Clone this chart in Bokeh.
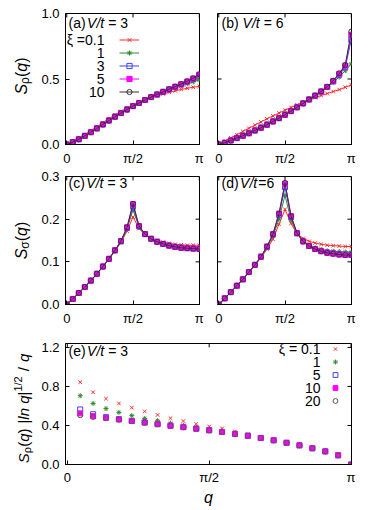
import math
from bokeh.plotting import figure
from bokeh.layouts import column, row
from bokeh.models import (Label, Legend, LegendItem, FixedTicker,
                          PrintfTickFormatter, Range1d, ColumnDataSource)
from bokeh.embed import file_html
from bokeh.resources import INLINE

PI = math.pi
k_all = list(range(23))
q_all = [PI * i / 22 for i in k_all]
q_e = q_all[1:]

x_ticks = [0, PI / 2, PI]
x_tick_labels = ["0", "π/2", "π"]
y_ticks_ab = [0, 0.5, 1.0]
y_ticks_cd = [0, 0.1, 0.2, 0.3]
y_ticks_e = [0, 0.4, 0.8, 1.2]

# ---- panel (a): S_rho(q), V/t = 3
a_xi01 = [0, 0.022, 0.047, 0.075, 0.105, 0.136, 0.167, 0.197, 0.226, 0.253, 0.278, 0.300, 0.321, 0.340, 0.357, 0.372, 0.386, 0.399, 0.410, 0.420, 0.429, 0.437, 0.444]
a_xi1 = [0, 0.019, 0.042, 0.069, 0.098, 0.128, 0.158, 0.188, 0.216, 0.244, 0.270, 0.295, 0.318, 0.340, 0.360, 0.379, 0.398, 0.415, 0.432, 0.448, 0.463, 0.478, 0.492]
a_xi3 = [0, 0.018, 0.040, 0.066, 0.094, 0.123, 0.153, 0.183, 0.212, 0.240, 0.267, 0.293, 0.317, 0.340, 0.362, 0.382, 0.402, 0.421, 0.440, 0.459, 0.479, 0.501, 0.528]
a_xi5 = [0, 0.018, 0.040, 0.066, 0.094, 0.123, 0.153, 0.183, 0.212, 0.240, 0.267, 0.293, 0.317, 0.340, 0.362, 0.382, 0.402, 0.421, 0.441, 0.460, 0.481, 0.504, 0.533]
a_xi10 = [0, 0.018, 0.040, 0.066, 0.094, 0.123, 0.153, 0.183, 0.212, 0.240, 0.267, 0.293, 0.317, 0.340, 0.362, 0.382, 0.402, 0.422, 0.442, 0.461, 0.482, 0.505, 0.536]

# ---- panel (b): S_rho(q), V/t = 6
b_xi01 = [0, 0.025, 0.050, 0.075, 0.100, 0.124, 0.148, 0.172, 0.196, 0.218, 0.240, 0.262, 0.283, 0.303, 0.322, 0.340, 0.358, 0.374, 0.389, 0.404, 0.419, 0.437, 0.455]
b_xi1 = [0, 0.016, 0.035, 0.055, 0.075, 0.096, 0.117, 0.139, 0.162, 0.186, 0.210, 0.235, 0.261, 0.288, 0.315, 0.342, 0.370, 0.400, 0.437, 0.475, 0.515, 0.563, 0.615]
b_xi3 = [0, 0.013, 0.031, 0.049, 0.067, 0.086, 0.107, 0.128, 0.151, 0.176, 0.201, 0.227, 0.255, 0.284, 0.314, 0.344, 0.373, 0.404, 0.438, 0.481, 0.533, 0.590, 0.800]
b_xi5 = [0, 0.013, 0.031, 0.049, 0.067, 0.086, 0.107, 0.128, 0.151, 0.176, 0.201, 0.227, 0.255, 0.284, 0.314, 0.344, 0.373, 0.405, 0.440, 0.485, 0.540, 0.602, 0.838]
b_xi10 = [0, 0.013, 0.031, 0.049, 0.067, 0.086, 0.107, 0.128, 0.151, 0.176, 0.201, 0.227, 0.255, 0.284, 0.314, 0.344, 0.373, 0.405, 0.441, 0.487, 0.543, 0.607, 0.862]

# ---- panel (c): S_sigma(q), V/t = 3
c_xi01 = [0, 0.013, 0.027, 0.041, 0.056, 0.072, 0.089, 0.106, 0.125, 0.145, 0.172, 0.205, 0.178, 0.163, 0.155, 0.150, 0.146, 0.143, 0.141, 0.140, 0.139, 0.139, 0.139]
c_xi1 = [0, 0.013, 0.027, 0.041, 0.056, 0.072, 0.089, 0.107, 0.126, 0.147, 0.177, 0.222, 0.181, 0.164, 0.154, 0.148, 0.143, 0.140, 0.137, 0.135, 0.134, 0.133, 0.133]
c_xi3 = [0, 0.013, 0.027, 0.041, 0.056, 0.072, 0.089, 0.107, 0.127, 0.148, 0.179, 0.230, 0.183, 0.165, 0.154, 0.147, 0.142, 0.138, 0.135, 0.133, 0.132, 0.131, 0.131]
c_xi5 = [0, 0.013, 0.027, 0.041, 0.056, 0.072, 0.089, 0.107, 0.127, 0.149, 0.181, 0.235, 0.184, 0.165, 0.154, 0.147, 0.142, 0.138, 0.135, 0.133, 0.132, 0.131, 0.130]
c_xi10 = [0, 0.013, 0.027, 0.041, 0.056, 0.072, 0.089, 0.107, 0.127, 0.149, 0.181, 0.236, 0.184, 0.165, 0.154, 0.147, 0.142, 0.138, 0.135, 0.133, 0.132, 0.131, 0.130]

# ---- panel (d): S_sigma(q), V/t = 6
d_xi01 = [0, 0.0145, 0.029, 0.044, 0.059, 0.075, 0.092, 0.109, 0.130, 0.153, 0.188, 0.223, 0.190, 0.165, 0.155, 0.148, 0.144, 0.141, 0.139, 0.138, 0.137, 0.136, 0.136]
d_xi1 = [0, 0.0145, 0.029, 0.044, 0.059, 0.076, 0.093, 0.111, 0.133, 0.160, 0.200, 0.256, 0.198, 0.166, 0.149, 0.139, 0.133, 0.129, 0.126, 0.125, 0.124, 0.123, 0.123]
d_xi3 = [0, 0.0145, 0.029, 0.044, 0.059, 0.076, 0.093, 0.112, 0.135, 0.164, 0.210, 0.275, 0.205, 0.167, 0.148, 0.137, 0.130, 0.125, 0.122, 0.120, 0.118, 0.117, 0.117]
d_xi5 = [0, 0.0145, 0.029, 0.044, 0.059, 0.076, 0.093, 0.112, 0.136, 0.165, 0.213, 0.283, 0.207, 0.167, 0.148, 0.137, 0.130, 0.125, 0.121, 0.119, 0.117, 0.116, 0.116]
d_xi10 = [0, 0.0145, 0.029, 0.044, 0.059, 0.076, 0.093, 0.112, 0.136, 0.165, 0.213, 0.285, 0.207, 0.167, 0.148, 0.137, 0.130, 0.125, 0.121, 0.119, 0.117, 0.116, 0.116]

# ---- panel (e): S_rho(q)|ln q|^(1/2)/q, V/t = 3 (q > 0)
e_xi01 = [0.843, 0.740, 0.675, 0.626, 0.583, 0.544, 0.508, 0.475, 0.445, 0.416, 0.390, 0.370, 0.338, 0.311, 0.278, 0.253, 0.226, 0.199, 0.169, 0.136, 0.096, 0.0]
e_xi1 = [0.705, 0.626, 0.573, 0.534, 0.501, 0.472, 0.449, 0.423, 0.402, 0.381, 0.362, 0.343, 0.322, 0.300, 0.275, 0.250, 0.224, 0.198, 0.168, 0.135, 0.095, 0.0]
e_xi5 = [0.564, 0.515, 0.485, 0.465, 0.447, 0.431, 0.414, 0.398, 0.383, 0.367, 0.351, 0.333, 0.313, 0.294, 0.271, 0.248, 0.222, 0.196, 0.166, 0.134, 0.094, 0.0]
e_xi10 = [0.524, 0.495, 0.478, 0.462, 0.445, 0.430, 0.413, 0.397, 0.383, 0.367, 0.351, 0.334, 0.314, 0.295, 0.272, 0.249, 0.223, 0.197, 0.167, 0.135, 0.095, 0.0]
e_xi20 = [0.505, 0.488, 0.474, 0.460, 0.444, 0.429, 0.413, 0.397, 0.382, 0.366, 0.350, 0.333, 0.313, 0.294, 0.271, 0.248, 0.222, 0.196, 0.166, 0.134, 0.094, 0.0]

xi_labels_top = ["ξ =0.1", "1", "3", "5", "10"]
xi_labels_e = ["ξ = 0.1", "1", "5", "10", "20"]

FONT = "Liberation Sans"
RED, GREEN, BLUE, MAG, BLK, GRY = "#ff2a2a", "#2e8b2e", "#4040ff", "#ff00ff", "#333333", "#555555"
st_top = [
    dict(color=RED, marker="x", fill=None),
    dict(color=GREEN, marker="asterisk", fill=None),
    dict(color=BLUE, marker="square", fill=None),
    dict(color=MAG, marker="square", fill=MAG),
    dict(color=BLK, marker="circle", fill=None),
]
st_e = [
    dict(color=RED, marker="x", fill=None),
    dict(color=GREEN, marker="asterisk", fill=None),
    dict(color=BLUE, marker="square", fill=None),
    dict(color=MAG, marker="square", fill=MAG),
    dict(color=GRY, marker="circle", fill=None),
]

W = {'S': 0.667, 'ρ': 0.58, 'σ': 0.62, '(': 0.333, ')': 0.333, 'q': 0.556, ' ': 0.278,
     '|': 0.26, 'l': 0.222, 'n': 0.556, '1': 0.556, '2': 0.556, '/': 0.278, 'a': 0.556,
     'b': 0.556, 'c': 0.5, 'd': 0.556, 'e': 0.556, 'V': 0.667, 't': 0.278, '=': 0.584,
     '3': 0.556, '6': 0.556}


def tw(s, size):
    return sum(W.get(ch, 0.556) for ch in s) * size


def lab(p, x, y, text, size, style="normal", angle=0.0, align="left", baseline="middle"):
    p.add_layout(Label(x=x, y=y, x_units="screen", y_units="screen", text=text,
                       text_font=FONT, text_font_size=f"{size}px", text_font_style=style,
                       angle=angle, text_align=align, text_baseline=baseline,
                       text_color="black"))


def make_panel(w, h, bl, br, bt, bb, yr, yticks, ylabels=True, xr=(-0.03, PI + 0.005)):
    p = figure(width=w, height=h, x_range=Range1d(*xr), y_range=Range1d(*yr),
               output_backend="svg", toolbar_location=None, title=None,
               min_border_left=bl, min_border_right=br, min_border_top=bt, min_border_bottom=bb)
    p.grid.visible = False
    p.outline_line_color = "black"
    p.background_fill_color = "white"
    p.border_fill_color = "white"
    xa = p.xaxis[0]
    xa.ticker = FixedTicker(ticks=x_ticks)
    xa.major_label_overrides = {t: s for t, s in zip(x_ticks, x_tick_labels)}
    ya = p.yaxis[0]
    ya.ticker = FixedTicker(ticks=yticks)
    ya.formatter = PrintfTickFormatter(format="%.1f")
    for ax in (xa, ya):
        ax.major_tick_in = 4
        ax.major_tick_out = 0
        ax.minor_tick_line_color = None
        ax.axis_line_color = "black"
        ax.major_label_text_font = FONT
        ax.major_label_text_font_size = "13px"
        ax.major_label_text_color = "black"
        ax.major_label_standoff = 6
    if not ylabels:
        ya.visible = False
    # mirrored inward ticks (right, top, and left when the y axis has no labels)
    fw = w - bl - br
    fh = h - bt - bb
    dx = 4.0 / fw * (xr[1] - xr[0])
    dy = 4.0 / fh * (yr[1] - yr[0])
    inner_y = [t for t in yticks if yr[0] < t < yr[1]]
    inner_x = [t for t in x_ticks if xr[0] < t < xr[1]]
    tick_style = dict(line_color="black", line_width=1)
    p.segment(x0=[xr[1]] * len(inner_y), y0=inner_y, x1=[xr[1] - dx] * len(inner_y), y1=inner_y, **tick_style)
    p.segment(x0=inner_x, y0=[yr[1]] * len(inner_x), x1=inner_x, y1=[yr[1] - dy] * len(inner_x), **tick_style)
    if not ylabels:
        p.segment(x0=[xr[0]] * len(inner_y), y0=inner_y, x1=[xr[0] + dx] * len(inner_y), y1=inner_y, **tick_style)
    return p


def label_fig(w, h):
    p = figure(width=w, height=h, x_range=Range1d(0, w), y_range=Range1d(0, h),
               output_backend="svg", toolbar_location=None, title=None, min_border=0,
               x_axis_type=None, y_axis_type=None)
    p.outline_line_color = None
    p.background_fill_color = "white"
    p.border_fill_color = "white"
    return p


def add_series(p, x, y, st, size=5, line=True):
    src = ColumnDataSource(dict(x=x, y=y))
    rs = []
    if line:
        rs.append(p.line("x", "y", source=src, line_color=st["color"], line_width=1))
    rs.append(p.scatter("x", "y", source=src, marker=st["marker"], size=size,
                        line_color=st["color"], fill_color=st["fill"], line_width=1))
    return rs


def title(p, fh, letter, rest, tail, dy, x0=3, size=14, gap=1.5, gap2=4):
    y = fh - dy
    lab(p, x0, y, letter, size)
    x1 = x0 + tw(letter, size) + gap
    lab(p, x1, y, rest, size, style="italic")
    x2 = x1 + tw(rest, size) + gap2
    lab(p, x2, y, tail, size)


def vlabel(p, center, bx, pieces):
    # pieces: (text, size, style, shift); text None means an empty gap of `size` px
    def length(t, s):
        return s if t is None else tw(t, s)
    total = sum(length(t, s) for t, s, _, _ in pieces)
    y = center - total / 2
    for t, s, style, shift in pieces:
        if t is not None:
            lab(p, bx + shift, y, t, s, style=style, angle=PI / 2, align="left", baseline="alphabetic")
        y += length(t, s)


def legend_glyphs(p, renderer_groups, loc, gw):
    items = [LegendItem(label=" ", renderers=rs) for rs in renderer_groups]
    leg = Legend(items=items, location=loc, padding=0, spacing=0, margin=0,
                 glyph_width=gw, glyph_height=13, label_height=13, label_width=1,
                 label_standoff=0, label_text_font_size="1px",
                 border_line_color=None, background_fill_alpha=0)
    p.add_layout(leg)


# ---------------- figures ----------------
LW = 38          # width of the y-label strip
H1, H2, H3 = 168, 160, 180
HT = H1 + H2 + H3
strip = label_fig(LW, HT)
fa = make_panel(170, H1, 25, 9, 13, 24, (0, 1.0), y_ticks_ab)
fb = make_panel(165, H1, 9, 22, 13, 24, (0, 1.0), y_ticks_ab, ylabels=False)
fc = make_panel(170, H2, 25, 9, 8, 21, (0, 0.3), y_ticks_cd)
fd = make_panel(165, H2, 9, 22, 8, 21, (0, 0.3), y_ticks_cd, ylabels=False)
fe = make_panel(335, H3, 25, 22, 15, 39, (0, 1.24), y_ticks_e, xr=(-0.02, PI + 0.005))
fe.xaxis[0].major_label_standoff = 5
fe.xaxis[0].axis_label = "q"
fe.xaxis[0].axis_label_text_font = FONT
fe.xaxis[0].axis_label_text_font_style = "italic"
fe.xaxis[0].axis_label_text_font_size = "16px"
fe.xaxis[0].axis_label_text_color = "black"
fe.xaxis[0].axis_label_standoff = 1

groups_a = [add_series(fa, q_all, ys, st) for ys, st in zip([a_xi01, a_xi1, a_xi3, a_xi5, a_xi10], st_top)]
for ys, st in zip([b_xi01, b_xi1, b_xi3, b_xi5, b_xi10], st_top):
    add_series(fb, q_all, ys, st)
for ys, st in zip([c_xi01, c_xi1, c_xi3, c_xi5, c_xi10], st_top):
    add_series(fc, q_all, ys, st)
for ys, st in zip([d_xi01, d_xi1, d_xi3, d_xi5, d_xi10], st_top):
    add_series(fd, q_all, ys, st)
groups_e = [add_series(fe, q_e, ys, st, line=False) for ys, st in zip([e_xi01, e_xi1, e_xi5, e_xi10, e_xi20], st_e)]

# legends (glyph column to the right of right-aligned text)
legend_glyphs(fa, groups_a, (54, 46), 20)
for i, t in enumerate(xi_labels_top):
    lab(fa, 39, 105 - 13 * i, t, 14, align="right")
legend_glyphs(fe, groups_e, (264, 57), 12)
for i, t in enumerate(xi_labels_e):
    lab(fe, 255, 115.5 - 13 * i, t, 14, align="right")

# panel titles
title(fa, 131, "(a)", "V/t", "= 3", 9.5)
title(fb, 131, "(b)", "V/t", "= 6", 9.5, x0=4, gap=4)
title(fc, 131, "(c)", "V/t", "= 3", 9)
title(fd, 131, "(d)", "V/t", "=6", 9, x0=4, gap2=1)
title(fe, 126, "(e)", "V/t", "= 3", 12)

# y-axis labels, all in one tall strip (y measured from the strip bottom)
vlabel(strip, HT - 75.5, 21, [("S", 16, "italic", 0), ("ρ", 12, "normal", 3.5), ("(", 16, "normal", 0),
                              ("q", 16, "italic", 0), (")", 16, "normal", 0)])
vlabel(strip, HT - 240, 21, [("S", 16, "italic", 0), ("σ", 12, "normal", 3.5), ("(", 16, "normal", 0),
                             ("q", 16, "italic", 0), (")", 16, "normal", 0)])
vlabel(strip, HT - 408, 23, [("S", 15, "italic", 0), ("ρ", 11, "normal", 3.5), ("(", 15, "normal", 0),
                             ("q", 15, "italic", 0), (")", 15, "normal", 0), (None, 5, None, 0),
                             ("|", 15, "normal", 0), ("ln q", 15, "italic", 0), ("|", 15, "normal", 0),
                             ("1/2", 11, "normal", -6), (None, 5, None, 0), ("/", 15, "normal", 0),
                             (None, 5, None, 0), ("q", 15, "italic", 0)])

layout = row(strip, column(row(fa, fb), row(fc, fd), fe))
open("out.html", "w").write(file_html(layout, INLINE))
